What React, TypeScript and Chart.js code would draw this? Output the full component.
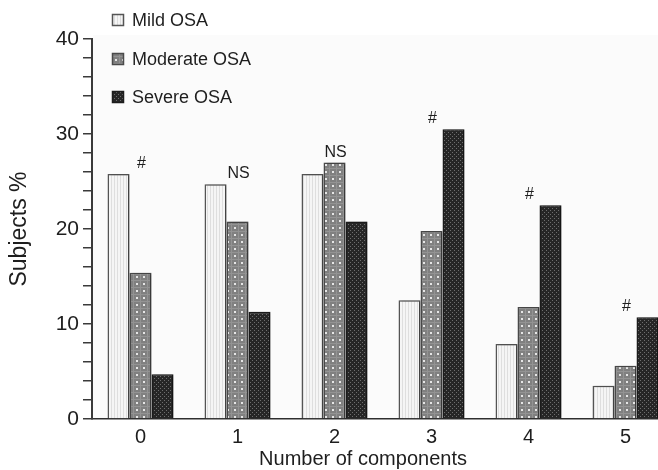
import React, { useEffect, useRef } from "react";
import { Chart, registerables } from "chart.js";

Chart.register(...registerables);

// Share of subjects (%) by number of components, per OSA severity group
const components = [0, 1, 2, 3, 4, 5];
const mildOSA = [25.8, 24.7, 25.8, 12.5, 7.9, 3.5];
const moderateOSA = [15.4, 20.8, 27.0, 19.8, 11.8, 5.6];
const severeOSA = [4.7, 11.3, 20.8, 30.5, 22.5, 10.7];
const significance = ["#", "NS", "NS", "#", "#", "#"];
const seriesNames = ["Mild OSA", "Moderate OSA", "Severe OSA"];
const yTickLabels = [0, 10, 20, 30, 40];

const FONT = "'Liberation Sans', Arial, Helvetica, sans-serif";
const INK = "#1e1e1e";

function tile(w: number, h: number, paint: (g: CanvasRenderingContext2D) => void) {
  const c = document.createElement("canvas");
  c.width = w;
  c.height = h;
  const g = c.getContext("2d")!;
  paint(g);
  return c;
}

function makePatterns(ctx: CanvasRenderingContext2D) {
  // light fill with fine vertical hatching
  const mild = tile(3, 3, (g) => {
    g.fillStyle = "#f5f5f5";
    g.fillRect(0, 0, 3, 3);
    g.fillStyle = "#dedede";
    g.fillRect(0, 0, 1, 3);
  });
  // mid grey with a grid of pale dots
  const moderate = tile(7, 7, (g) => {
    g.fillStyle = "#808080";
    g.fillRect(0, 0, 7, 7);
    g.fillStyle = "#939393";
    g.fillRect(0, 0, 1, 7);
    g.fillRect(0, 0, 7, 1);
    g.fillStyle = "#e6e6e6";
    g.fillRect(3, 3, 2, 2);
  });
  // dark fill with a fine checker of lighter dots
  const severe = tile(4, 4, (g) => {
    g.fillStyle = "#262626";
    g.fillRect(0, 0, 4, 4);
    g.fillStyle = "#6e6e6e";
    g.fillRect(0, 0, 1, 1);
    g.fillRect(2, 2, 1, 1);
  });
  return [
    ctx.createPattern(mild, "repeat")!,
    ctx.createPattern(moderate, "repeat")!,
    ctx.createPattern(severe, "repeat")!,
  ];
}

const borderColors = ["#555555", "#4a4a4a", "#1c1c1c"];

export default function App() {
  const canvasRef = useRef<HTMLCanvasElement | null>(null);

  useEffect(() => {
    const canvas = canvasRef.current;
    if (!canvas) return;
    const ctx = canvas.getContext("2d")!;
    const fills = makePatterns(ctx);
    const seriesValues = [mildOSA, moderateOSA, severeOSA];

    const plotBackground = {
      id: "plotBackground",
      beforeDatasetsDraw(chart: any) {
        const { ctx: c, chartArea: a } = chart;
        c.save();
        c.fillStyle = "#fbfbfb";
        c.fillRect(a.left + 1, a.top - 4, a.right - a.left, a.bottom - a.top + 3);
        c.restore();
      },
    };

    const barShadow = {
      id: "barShadow",
      beforeDatasetsDraw(chart: any) {
        const c = chart.ctx;
        c.save();
        c.shadowColor = "rgba(0,0,0,0.28)";
        c.shadowBlur = 3;
        c.shadowOffsetX = 2;
        c.shadowOffsetY = 0;
      },
      afterDatasetsDraw(chart: any) {
        chart.ctx.restore();
      },
    };

    const extras = {
      id: "extras",
      afterDraw(chart: any) {
        const c = chart.ctx;
        const xs = chart.scales.x;
        const ys = chart.scales.y;
        c.save();
        // significance marks above each group
        c.fillStyle = INK;
        c.font = `16px ${FONT}`;
        c.textAlign = "center";
        c.textBaseline = "alphabetic";
        components.forEach((comp, i) => {
          const top = Math.max(mildOSA[i], moderateOSA[i], severeOSA[i]);
          c.fillText(significance[i], xs.getPixelForValue(comp) + 1, ys.getPixelForValue(top) - 6);
        });

        // legend, stacked vertically in the upper left
        c.font = `18px ${FONT}`;
        c.textAlign = "left";
        c.textBaseline = "middle";
        const rows = [20, 59, 97];
        seriesNames.forEach((name, i) => {
          const y = rows[i];
          c.fillStyle = fills[i];
          c.fillRect(112, y - 6, 12, 12);
          c.strokeStyle = borderColors[i];
          c.lineWidth = 1.5;
          c.strokeRect(112.5, y - 5.5, 11, 11);
          c.fillStyle = INK;
          c.fillText(name, 132, y + 1);
        });

        // x axis title
        c.font = `20px ${FONT}`;
        c.textAlign = "center";
        c.fillText("Number of components", 363, 459);
        c.restore();
      },
    };

    const chart = new Chart(ctx, {
      type: "bar",
      data: {
        datasets: seriesNames.map((name, s) => ({
          label: name,
          data: components.map((comp, i) => ({ x: comp, y: seriesValues[s][i] })),
          backgroundColor: fills[s],
          borderColor: borderColors[s],
          borderWidth: 1.5,
          categoryPercentage: 0.68,
          barPercentage: 1.0,
        })),
      },
      options: {
        responsive: false,
        animation: false,
        layout: { padding: { top: 39, right: 0, left: 0, bottom: 0 } },
        plugins: {
          legend: { display: false },
          tooltip: { enabled: false },
        },
        scales: {
          x: {
            type: "linear",
            min: -0.5,
            max: 5.335,
            offset: false,
            grid: { display: false, drawTicks: false, tickLength: 0 },
            border: { display: true, color: "#2e2e2e", width: 1.5 },
            ticks: {
              font: { size: 20, family: FONT },
              color: INK,
              padding: 6,
              autoSkip: false,
              callback: (v: any) => String(v),
            },
            afterBuildTicks: (scale: any) => {
              scale.ticks = components.map((v) => ({ value: v }));
            },
            afterFit: (scale: any) => {
              scale.height = 51;
            },
          },
          y: {
            min: 0,
            max: 40,
            grid: {
              drawOnChartArea: false,
              tickLength: 9,
              color: "#3a3a3a",
              lineWidth: 1.5,
            },
            border: { display: true, color: "#3a3a3a", width: 2 },
            ticks: {
              stepSize: 2,
              autoSkip: false,
              font: { size: 21, family: FONT },
              color: INK,
              padding: 4,
              callback: (v: any) => (yTickLabels.includes(Number(v)) ? String(v) : ""),
            },
            title: {
              display: true,
              text: "Subjects %",
              font: { size: 23, family: FONT },
              color: INK,
              padding: { top: 6, bottom: 0 },
            },
            afterFit: (scale: any) => {
              scale.width = 92;
            },
          },
        },
      },
      plugins: [plotBackground, barShadow, extras],
    } as any);

    return () => chart.destroy();
  }, []);

  return (
    <div style={{ position: "fixed", left: 0, top: 0, width: 658, height: 470, background: "#fff" }}>
      <canvas ref={canvasRef} width={658} height={470} style={{ display: "block" }} />
    </div>
  );
}
